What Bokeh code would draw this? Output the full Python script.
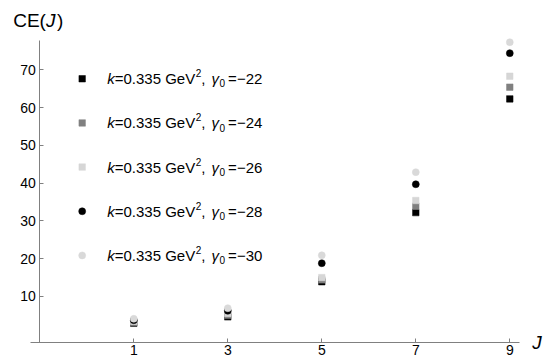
from bokeh.plotting import figure
from bokeh.models import Label, Range1d, FixedTicker
from bokeh.embed import file_html
from bokeh.resources import INLINE

# ---- data ----
J = [1, 3, 5, 7, 9]
ce_g22 = [2.9, 4.6, 13.9, 32.2, 62.3]
ce_g24 = [3.1, 5.0, 14.4, 33.9, 65.4]
ce_g26 = [3.4, 5.5, 15.0, 35.4, 68.3]
ce_g28 = [3.7, 6.2, 18.8, 39.7, 74.4]
ce_g30 = [4.1, 6.9, 20.9, 42.9, 77.3]
gammas = ["22", "24", "26", "28", "30"]
x_ticks = [1, 3, 5, 7, 9]
y_ticks = [10, 20, 30, 40, 50, 60, 70]

series = [ce_g22, ce_g24, ce_g26, ce_g28, ce_g30]
markers = ["square", "square", "square", "circle", "circle"]
colors = ["#000000", "#808080", "#d6d6d6", "#000000", "#d9d9d9"]
sizes = [6.5, 6.5, 6.5, 7, 7]

FONT = "Liberation Sans"
AXIS_COL = "#808080"

# axes cross at (x0, y0); drawn ranges of the axis lines
x0, y0 = -1.0, -2.1
x_axis_end = 9.2
y_axis_end = 77.75

p = figure(width=553, height=358,
           min_border_left=0, min_border_right=0,
           min_border_top=0, min_border_bottom=0,
           x_range=Range1d(-1.836, 9.930), y_range=Range1d(-6.42, 88.34),
           output_backend="svg", toolbar_location=None)
p.outline_line_color = None
p.grid.visible = False
p.background_fill_color = "white"
p.border_fill_color = "white"

for ax in (p.xaxis[0], p.yaxis[0]):
    ax.axis_line_color = AXIS_COL
    ax.major_tick_line_color = AXIS_COL
    ax.minor_tick_line_color = None
    ax.major_tick_in = 4
    ax.major_tick_out = 0
    ax.major_label_text_font = FONT
    ax.major_label_text_font_size = "14px"
    ax.major_label_text_color = "#000000"
p.xaxis.ticker = FixedTicker(ticks=x_ticks)
p.yaxis.ticker = FixedTicker(ticks=y_ticks)
p.xaxis.major_label_standoff = 3
p.yaxis.major_label_standoff = 4
p.xaxis.fixed_location = y0
p.yaxis.fixed_location = x0
p.xaxis.bounds = (-1.2, x_axis_end)
p.yaxis.bounds = (y0, y_axis_end)

# data points
for ys, m, c, s in zip(series, markers, colors, sizes):
    p.scatter(J, ys, marker=m, size=s, fill_color=c, line_color=c, line_width=0.5)

# ---- text layout helper (Arial/Liberation metrics) ----
W = {"0": .556, "1": .556, "2": .556, "3": .556, "4": .556, "5": .556, "6": .556,
     "7": .556, "8": .556, "9": .556, ".": .278, ",": .278, " ": .278, "=": .584,
     "\u2212": .584, "k": .5, "G": .778, "e": .556, "V": .667, "\u03b3": .5,
     "C": .722, "E": .667, "(": .333, ")": .333, "J": .5}


def width(t, size):
    return sum(W.get(ch, .556) for ch in t) * size


def rich(x, y, pieces):
    # dy = desired baseline offset (px, up positive) from the anchor point
    off = 0.0
    for text, size, style, dy, gap in pieces:
        p.add_layout(Label(x=x, y=y, x_offset=off, y_offset=dy + 0.4 * size, text=text,
                           text_font=FONT, text_font_size=f"{size}px",
                           text_font_style=style, text_color="black",
                           text_align="left", text_baseline="alphabetic"))
        off += width(text, size) + gap


# legend
leg_marker_x = -0.098
leg_text_x = 0.434
leg_top = 67.62
leg_step = 11.69
for i, (g, m, c, s) in enumerate(zip(gammas, markers, colors, sizes)):
    yy = leg_top - i * leg_step
    p.scatter([leg_marker_x], [yy], marker=m, size=s, fill_color=c, line_color=c, line_width=0.5)
    rich(leg_text_x, yy, [
        ("k", 15, "italic", -6, 0),
        ("=0.335 GeV", 15, "normal", -6, 0.5),
        ("2", 10, "normal", 1.6, 0),
        (", ", 15, "normal", -6, 2),
        ("\u03b3", 15, "italic", -6, 0.5),
        ("0", 10, "normal", -8.6, 3),
        ("=\u2212" + g, 15, "normal", -6, 0),
    ])

# axis titles
rich(-1.566, 81.12, [("CE(", 19, "normal", 0, 0), ("J", 19, "italic", 0, 1.5),
                      (")", 19, "normal", 0, 0)])
p.add_layout(Label(x=9.477, y=y0, text="J", text_font=FONT, text_font_size="19px",
                   text_font_style="italic", text_color="black",
                   text_align="left", text_baseline="middle"))

open("out.html", "w").write(file_html(p, INLINE))
